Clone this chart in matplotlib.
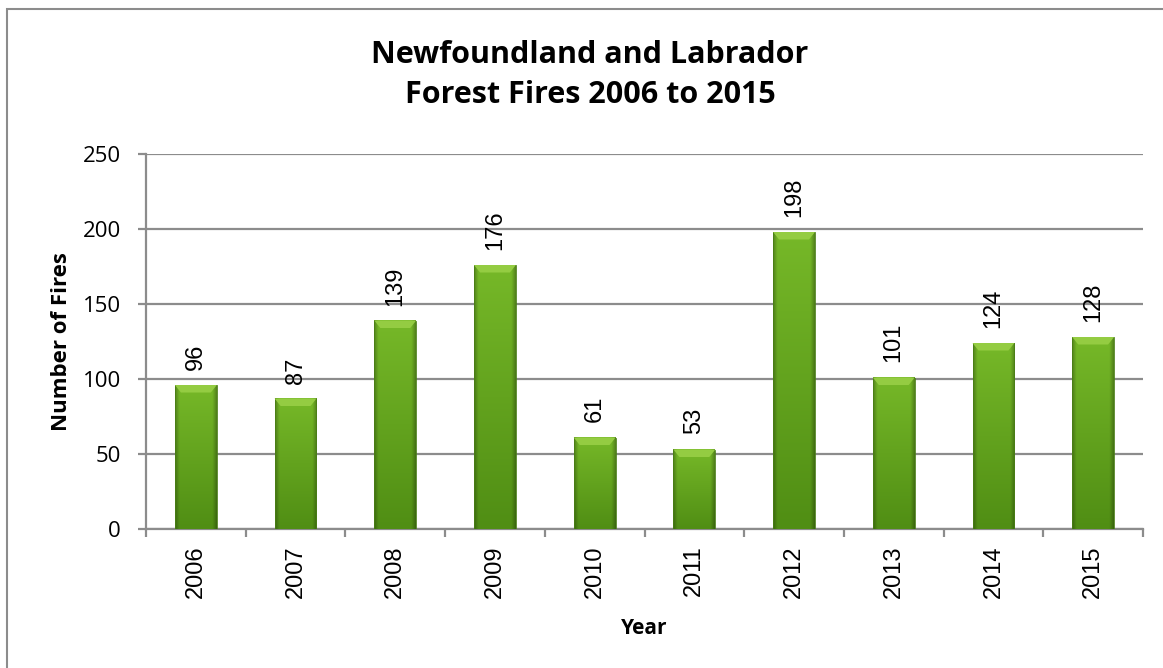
import matplotlib
matplotlib.use("Agg")
import matplotlib.pyplot as plt
import numpy as np
from matplotlib.colors import to_rgb
from matplotlib.patches import Rectangle, Polygon

#=================== DATA ===================
years = ["2006", "2007", "2008", "2009", "2010", "2011", "2012", "2013", "2014", "2015"]
fires = [96, 87, 139, 176, 61, 53, 198, 101, 124, 128]
y_ticks = [0, 50, 100, 150, 200, 250]

title_txt = "Newfoundland and Labrador\nForest Fires 2006 to 2015"

#=================== FIGURE ===================
fig = plt.figure(figsize=(11.63, 6.68), dpi=100)
ax = fig.add_axes([146/1163, 1-529/668, (1143-146)/1163, (529-154)/668])

# outer chart border
fig.patches.append(Rectangle((7/1163, -0.05), 1.2, 1-9/668+0.05, transform=fig.transFigure,
                             fill=False, edgecolor="#8c8c8c", linewidth=1.5))

x = np.arange(len(years))
w = 0.42
ax.set_xlim(-0.5, len(years)-0.5)
ax.set_ylim(0, 250)

# bar shading: vertical light->dark, darker edges
top_c = np.array(to_rgb("#76b828"))
bot_c = np.array(to_rgb("#508e14"))
nx, ny = 48, 64
hx = np.linspace(-1, 1, nx)
edge = 1 - 0.28*np.clip((np.abs(hx)-0.8)/0.2, 0, 1)
vy = np.linspace(0, 1, ny).reshape(-1, 1, 1)
img = (top_c*(1-vy) + bot_c*vy) * edge.reshape(1, -1, 1)
img = np.clip(img, 0, 1)

for xi, v in zip(x, fires):
    ax.imshow(img, extent=(xi-w/2, xi+w/2, 0, v), aspect="auto", zorder=3, interpolation="bilinear")
    ax.add_patch(Rectangle((xi-w/2, 0), w, v, fill=False, edgecolor="#4a7f16", linewidth=0.6, zorder=4))
    # bevel on top
    bh = 5
    bw = 0.06
    ax.add_patch(Polygon([(xi-w/2, v), (xi+w/2, v), (xi+w/2-bw, v-bh), (xi-w/2+bw, v-bh)],
                         closed=True, facecolor="#94cc42", edgecolor="none", zorder=4))
    ax.text(xi, v+10, str(v), rotation=90, ha="center", va="bottom",
            fontsize=17, family="Liberation Sans", zorder=5)

ax.set_yticks(y_ticks)
ax.set_yticklabels([str(t) for t in y_ticks], fontsize=16, family="Open Sans")
ax.grid(axis="y", color="#8c8c8c", linewidth=1.6, zorder=0)
ax.set_axisbelow(True)

ax.set_xticks(x)
ax.set_xticklabels(years, rotation=90, fontsize=17, family="Liberation Sans")
ax.tick_params(axis="x", length=0, pad=12)
# category boundary ticks
ax.set_xticks(np.arange(-0.5, len(years)), minor=True)
ax.tick_params(axis="x", which="minor", length=6, color="#8c8c8c", width=1.6)
ax.tick_params(axis="y", length=6, color="#8c8c8c", width=1.6, pad=12)

for s in ["top", "right"]:
    ax.spines[s].set_visible(False)
for s in ["left", "bottom"]:
    ax.spines[s].set_color("#8c8c8c")
    ax.spines[s].set_linewidth(1.6)

ax.set_ylabel("Number of Fires", fontsize=16, fontweight="bold", family="Open Sans", labelpad=8)
ax.set_xlabel("Year", fontsize=15, fontweight="bold", family="Open Sans", labelpad=14)

fig.text(590/1163, 1-75/668, title_txt, ha="center", va="center", fontsize=22,
         fontweight="bold", family="Open Sans", linespacing=1.45)

fig.savefig("out.png", dpi=100)
